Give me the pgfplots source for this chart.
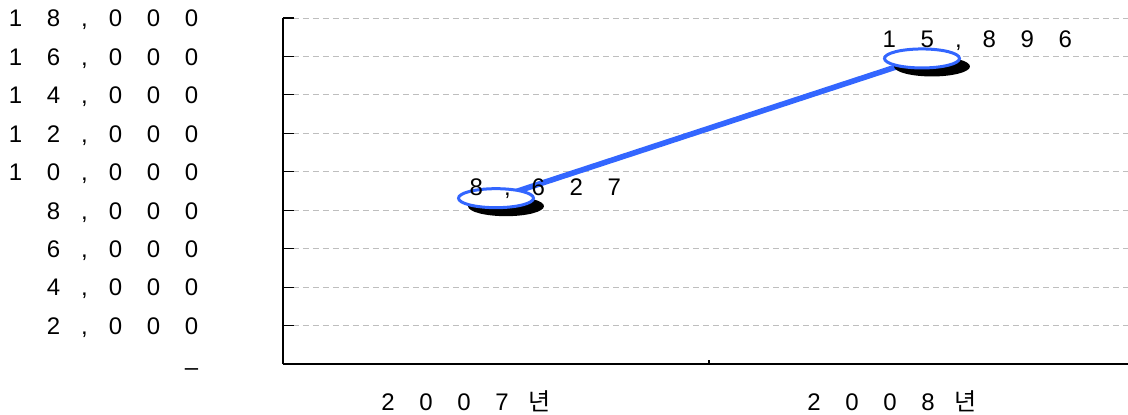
\documentclass[border=0pt]{standalone}
\usepackage{pgfplots}
\pgfplotsset{compat=1.18}
\usepackage{fontspec}
\setmainfont{Liberation Sans}
\newfontfamily\kr{Noto Sans CJK KR}
\definecolor{lineblue}{RGB}{51,102,255}
\definecolor{gridgray}{RGB}{190,190,190}
\newcommand{\dg}[1]{\makebox[19pt][c]{#1}}
\newcommand{\cm}{\makebox[12pt][c]{,}}
\pgfdeclareplotmark{shell}{%
  \pgfpathellipse{\pgfpoint{5pt}{-4pt}}{\pgfpoint{19pt}{0pt}}{\pgfpoint{0pt}{5pt}}%
  \pgfsetfillcolor{black}\pgfusepathqfill
  \pgfpathellipse{\pgfpointorigin}{\pgfpoint{18.75pt}{0pt}}{\pgfpoint{0pt}{4.75pt}}%
  \pgfsetfillcolor{white}\pgfusepathqfillstroke
}
\begin{document}
\begin{tikzpicture}
\useasboundingbox (-141.5pt,-25pt) rectangle (422.5pt,182pt);
\begin{axis}[
  at={(0,0)}, anchor=south west,
  scale only axis, width=422.5pt, height=173pt,
  xmin=-0.5, xmax=1.4836, ymin=0, ymax=18000,
  axis x line*=bottom, axis y line*=left,
  axis line style={-, line width=0.6pt, black},
  scaled y ticks=false,
  xtick={0,1},
  xticklabels={\dg{2}\dg{0}\dg{0}\dg{7}\dg{\kr 년}, \dg{2}\dg{0}\dg{0}\dg{8}\dg{\kr 년}},
  x tick style={draw=none},
  xticklabel style={anchor=base, inner sep=0pt, yshift=-23pt, xshift=-16pt, font=\fontsize{12}{14}\selectfont},
  ytick={0,2000,...,18000},
  yticklabels={\dg{\raisebox{-4.5pt}[0pt][0pt]{–}},
    \dg{2}\cm\dg{0}\dg{0}\dg{0},
    \dg{4}\cm\dg{0}\dg{0}\dg{0},
    \dg{6}\cm\dg{0}\dg{0}\dg{0},
    \dg{8}\cm\dg{0}\dg{0}\dg{0},
    \dg{1}\dg{0}\cm\dg{0}\dg{0}\dg{0},
    \dg{1}\dg{2}\cm\dg{0}\dg{0}\dg{0},
    \dg{1}\dg{4}\cm\dg{0}\dg{0}\dg{0},
    \dg{1}\dg{6}\cm\dg{0}\dg{0}\dg{0},
    \dg{1}\dg{8}\cm\dg{0}\dg{0}\dg{0}},
  yticklabel style={anchor=east, inner sep=0pt, xshift=-36pt, yshift=-1pt, font=\fontsize{12}{14}\selectfont},
  y tick style={line width=0.6pt, black},
  tick align=inside,
  major tick length=5.5pt,
  ymajorgrids,
  grid style={gridgray, dash pattern=on 3pt off 2pt, line width=0.5pt},
  clip=false,
]
\addplot[lineblue, line width=2.8pt, mark=shell, mark options={line width=1.5pt, solid}]
  coordinates {(0,8627) (1,15896)};
\draw[line width=0.6pt] (axis cs:0.5,0) -- (axis cs:0.5,210);
\coordinate (p1) at (axis cs:0,8627);
\coordinate (p2) at (axis cs:1,15896);
\end{axis}
\node[anchor=base west, inner sep=0pt, font=\fontsize{12}{14}\selectfont, xshift=-19.5pt, yshift=1.5pt]
  at (p1) {\dg{8}\cm\dg{6}\dg{2}\dg{7}};
\node[anchor=base west, inner sep=0pt, font=\fontsize{12}{14}\selectfont, xshift=-26pt, yshift=5.5pt]
  at (p2) {\dg{1}\dg{5}\cm\dg{8}\dg{9}\dg{6}};
\end{tikzpicture}
\end{document}
